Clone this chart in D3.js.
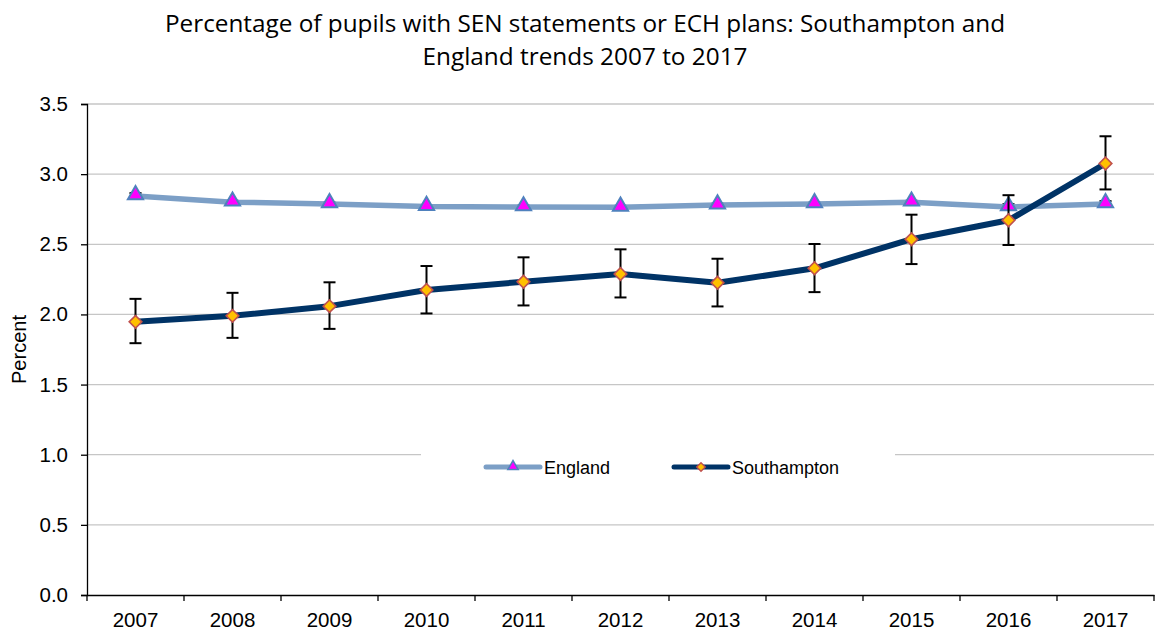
<!DOCTYPE html>
<html>
<head>
<meta charset="utf-8">
<script src="https://cdn.jsdelivr.net/npm/d3@7"></script>
<style>
  html, body { margin: 0; padding: 0; background: #fff; }
  svg { display: block; }
</style>
</head>
<body>
<svg id="chart" width="1157" height="630"></svg>
<script>
// Percentage of pupils with SEN statements or EHC plans, 2007-2017
const years = ["2007","2008","2009","2010","2011","2012","2013","2014","2015","2016","2017"];
const england = [2.845, 2.80, 2.788, 2.769, 2.766, 2.764, 2.78, 2.788, 2.80, 2.766, 2.788];
const englandLow  = [2.825, 2.79, 2.778, 2.759, 2.756, 2.754, 2.77, 2.778, 2.79, 2.746, 2.768];
const englandHigh = [2.865, 2.81, 2.798, 2.779, 2.776, 2.774, 2.79, 2.798, 2.81, 2.786, 2.808];
const southampton = [1.947, 1.99, 2.059, 2.174, 2.233, 2.288, 2.226, 2.329, 2.536, 2.671, 3.076];
const southamptonLow  = [1.795, 1.833, 1.897, 2.007, 2.064, 2.121, 2.057, 2.159, 2.359, 2.495, 2.891];
const southamptonHigh = [2.111, 2.154, 2.229, 2.345, 2.407, 2.464, 2.397, 2.502, 2.711, 2.85, 3.27];
const yTicks = [0, 0.5, 1.0, 1.5, 2.0, 2.5, 3.0, 3.5];
const titleLines = ["Percentage of pupils with SEN statements or ECH plans: Southampton and",
                    "England trends 2007 to 2017"];

const svg = d3.select("#chart");
const margin = {left: 87, right: 3, top: 104, bottom: 35};
const W = 1157, H = 630;
const labelFont = "'Liberation Sans', Arial, sans-serif";

const x = d3.scaleBand().domain(years).range([margin.left, W - margin.right]).padding(0);
const y = d3.scaleLinear().domain([0, 3.5]).range([H - margin.bottom, margin.top]);
const cx = d => x(d) + x.bandwidth() / 2;

// Title
svg.append("g").selectAll("text").data(titleLines).join("text")
  .attr("x", 585).attr("y", (d, i) => i === 0 ? 32 : 65)
  .attr("text-anchor", "middle")
  .attr("font-family", "'Open Sans', 'Noto Sans', sans-serif")
  .attr("font-size", 24)
  .attr("textLength", (d, i) => i === 0 ? 840 : 325)
  .attr("lengthAdjust", "spacingAndGlyphs")
  .attr("fill", "#000")
  .text(d => d);

// Gridlines
svg.append("g").selectAll("line").data(yTicks.filter(t => t > 0)).join("line")
  .attr("x1", margin.left).attr("x2", W - margin.right)
  .attr("y1", d => y(d)).attr("y2", d => y(d))
  .attr("stroke", "#c6c6c6").attr("stroke-width", 1.3);

// Y axis
const yAxis = svg.append("g").attr("transform", `translate(${margin.left},0)`)
  .call(d3.axisLeft(y).tickValues(yTicks).tickFormat(d3.format(".1f")).tickSize(6).tickPadding(13));
yAxis.select(".domain").attr("stroke", "#000").attr("stroke-width", 1.3);
yAxis.selectAll(".tick line").attr("stroke", "#000").attr("stroke-width", 1.3);
yAxis.selectAll("text").attr("font-family", labelFont).attr("font-size", 20.5).attr("fill", "#000");

// X axis with ticks on category boundaries
const xAxis = svg.append("g").attr("transform", `translate(0,${y(0)})`)
  .call(d3.axisBottom(x).tickSize(0).tickPadding(17.5));
xAxis.select(".domain").attr("stroke", "#000").attr("stroke-width", 1.3);
xAxis.selectAll("text").attr("font-family", labelFont).attr("font-size", 20.5).attr("fill", "#000");
const bounds = years.map(d => x(d)).concat([x(years[years.length - 1]) + x.bandwidth()]);
xAxis.append("g").selectAll("line").data(bounds).join("line")
  .attr("x1", d => d).attr("x2", d => d).attr("y1", 0).attr("y2", 6)
  .attr("stroke", "#000").attr("stroke-width", 1.3);

// Y axis title
svg.append("text")
  .attr("transform", `translate(26,${y(1.75)}) rotate(-90)`)
  .attr("text-anchor", "middle")
  .attr("font-family", labelFont).attr("font-size", 20)
  .text("Percent");

// Legend background box (hides gridline beneath it)
const legend = svg.append("g");
legend.append("rect").attr("x", 421).attr("y", 441).attr("width", 474).attr("height", 50).attr("fill", "#fff");

const lineGen = d3.line().x((d, i) => cx(years[i])).y(d => y(d));

// Error bars
function errorBars(low, high, color) {
  const g = svg.append("g").attr("stroke", color).attr("stroke-width", 2);
  years.forEach((yr, i) => {
    const px = cx(yr);
    g.append("line").attr("x1", px).attr("x2", px).attr("y1", y(low[i])).attr("y2", y(high[i]));
    g.append("line").attr("x1", px - 6).attr("x2", px + 6).attr("y1", y(low[i])).attr("y2", y(low[i]));
    g.append("line").attr("x1", px - 6).attr("x2", px + 6).attr("y1", y(high[i])).attr("y2", y(high[i]));
  });
}

// England series
errorBars(englandLow, englandHigh, "#000");
svg.append("path").datum(england).attr("d", lineGen)
  .attr("fill", "none").attr("stroke", "#7c9fc6").attr("stroke-width", 5.5).attr("stroke-linejoin", "round");

const triangle = d3.symbol().type(d3.symbolTriangle).size(100);
svg.append("g").selectAll("path").data(england).join("path")
  .attr("d", triangle)
  .attr("transform", (d, i) => `translate(${cx(years[i])},${y(d) - 1})`)
  .attr("fill", "#ff00ff").attr("stroke", "#4f81bd").attr("stroke-width", 2);

// Southampton series
errorBars(southamptonLow, southamptonHigh, "#000");
svg.append("path").datum(southampton).attr("d", lineGen)
  .attr("fill", "none").attr("stroke", "#003366").attr("stroke-width", 6).attr("stroke-linejoin", "round");

const diamond = d3.symbol().type(d3.symbolSquare).size(80);
svg.append("g").selectAll("path").data(southampton).join("path")
  .attr("d", diamond)
  .attr("transform", (d, i) => `translate(${cx(years[i])},${y(d)}) rotate(45)`)
  .attr("fill", "#ffc000").attr("stroke", "#c0504d").attr("stroke-width", 1.6);

// Legend entries
const legendItems = [
  {name: "England", x: 486, color: "#7c9fc6", sym: "tri"},
  {name: "Southampton", x: 674, color: "#003366", sym: "dia"}
];
const ly = 467;
legendItems.forEach(it => {
  legend.append("line").attr("x1", it.x).attr("x2", it.x + 54).attr("y1", ly).attr("y2", ly)
    .attr("stroke", it.color).attr("stroke-width", 5).attr("stroke-linecap", "round");
  if (it.sym === "tri") {
    legend.append("path").attr("d", d3.symbol().type(d3.symbolTriangle).size(45))
      .attr("transform", `translate(${it.x + 27},${ly - 0.5})`)
      .attr("fill", "#ff00ff").attr("stroke", "#4f81bd").attr("stroke-width", 1.6);
  } else {
    legend.append("path").attr("d", d3.symbol().type(d3.symbolSquare).size(36))
      .attr("transform", `translate(${it.x + 27},${ly}) rotate(45)`)
      .attr("fill", "#ffc000").attr("stroke", "#c0504d").attr("stroke-width", 1.4);
  }
  legend.append("text").attr("x", it.x + 58).attr("y", ly + 6.5)
    .attr("font-family", labelFont).attr("font-size", 18)
    .text(it.name);
});
</script>
</body>
</html>
